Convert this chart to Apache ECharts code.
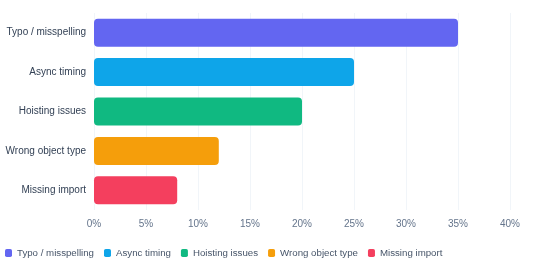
<!DOCTYPE html>
<html>
<head>
<meta charset="utf-8">
<script src="https://cdn.jsdelivr.net/npm/echarts@6/dist/echarts.min.js"></script>
<style>
  html, body { margin: 0; padding: 0; background: #fff; }
  #chart { width: 538px; height: 267px; }
</style>
</head>
<body>
<div id="chart"></div>
<script>
// error categories, top to bottom
const categories = ['Typo / misspelling', 'Async timing', 'Hoisting issues', 'Wrong object type', 'Missing import'];
const shares = [35, 25, 20, 12, 8];
const colors = ['#6366f1', '#0ea5e9', '#10b981', '#f59e0b', '#f43f5e'];

const chart = echarts.init(document.getElementById('chart'));

// one series per category so the legend gets one entry each
const series = categories.map(function (name, i) {
  return {
    name: name,
    type: 'bar',
    stack: 'all',
    barWidth: 28,
    itemStyle: { color: colors[i], borderRadius: 4 },
    data: categories.map(function (c, j) { return j === i ? shares[i] : null; })
  };
});

chart.setOption({
  animation: false,
  textStyle: { fontFamily: 'Arial, "Liberation Sans", sans-serif' },
  grid: { left: 94, right: 28, top: 13, bottom: 57, containLabel: false, outerBoundsMode: 'none' },
  legend: {
    bottom: 4,
    left: 0,
    itemWidth: 7,
    itemHeight: 8,
    itemGap: 10,
    icon: 'roundRect',
    textStyle: { fontSize: 9.7, color: '#475569' }
  },
  xAxis: {
    type: 'value',
    min: 0,
    max: 40,
    interval: 5,
    axisLabel: { formatter: '{value}%', fontSize: 10, color: '#64748b', margin: 9 },
    splitLine: { lineStyle: { color: '#f1f5f9' } },
    axisLine: { show: false },
    axisTick: { show: false }
  },
  yAxis: {
    type: 'category',
    inverse: true,
    data: categories,
    axisLabel: { fontSize: 10, color: '#334155', margin: 8 },
    axisLine: { show: false },
    axisTick: { show: false }
  },
  series: series
});
</script>
</body>
</html>
